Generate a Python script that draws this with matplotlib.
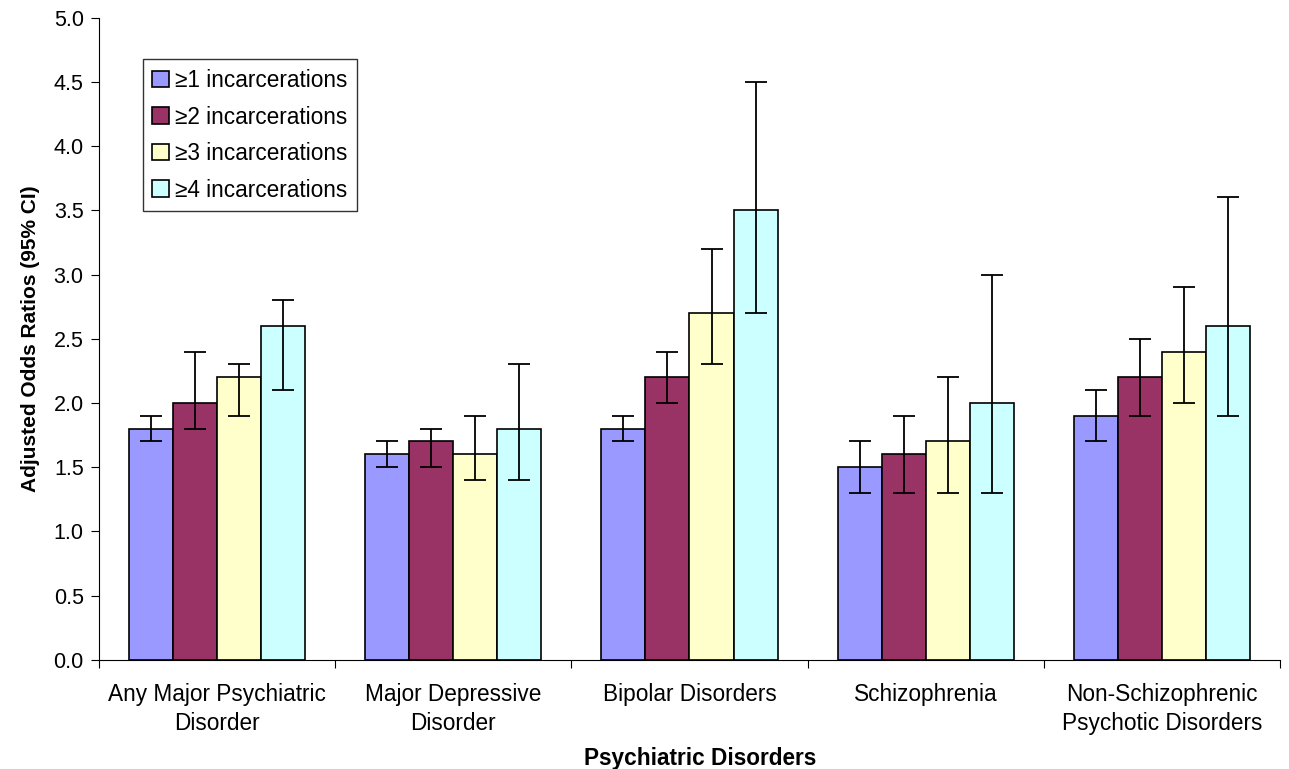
import numpy as np
import matplotlib
matplotlib.use("Agg")
import matplotlib.pyplot as plt

plt.rcParams['font.family'] = ['Liberation Sans', 'DejaVu Sans']

# categories and series
categories = ["Any Major Psychiatric\nDisorder", "Major Depressive\nDisorder",
              "Bipolar Disorders", "Schizophrenia",
              "Non-Schizophrenic\nPsychotic Disorders"]
series = ["\u22651 incarcerations", "\u22652 incarcerations",
          "\u22653 incarcerations", "\u22654 incarcerations"]

# odds ratios per series (one value per category)
or_1 = [1.8, 1.6, 1.8, 1.5, 1.9]
or_2 = [2.0, 1.7, 2.2, 1.6, 2.2]
or_3 = [2.2, 1.6, 2.7, 1.7, 2.4]
or_4 = [2.6, 1.8, 3.5, 2.0, 2.6]

# 95% CI bounds
lo_1 = [1.7, 1.5, 1.7, 1.3, 1.7]
hi_1 = [1.9, 1.7, 1.9, 1.7, 2.1]
lo_2 = [1.8, 1.5, 2.0, 1.3, 1.9]
hi_2 = [2.4, 1.8, 2.4, 1.9, 2.5]
lo_3 = [1.9, 1.4, 2.3, 1.3, 2.0]
hi_3 = [2.3, 1.9, 3.2, 2.2, 2.9]
lo_4 = [2.1, 1.4, 2.7, 1.3, 1.9]
hi_4 = [2.8, 2.3, 4.5, 3.0, 3.6]

colors = ["#9999FF", "#993366", "#FFFFCC", "#CCFFFF"]

values = [or_1, or_2, or_3, or_4]
lows = [lo_1, lo_2, lo_3, lo_4]
highs = [hi_1, hi_2, hi_3, hi_4]

fig = plt.figure(figsize=(12.89, 7.69), dpi=100)
ax = fig.add_axes([0.0768, 0.142, 0.9162, 0.835])

x = np.arange(len(categories))
w = 0.1865
for i in range(4):
    v = np.array(values[i])
    err = np.array([v - np.array(lows[i]), np.array(highs[i]) - v])
    ax.bar(x + (i - 1.5) * w, v, w, color=colors[i], edgecolor="black",
           linewidth=1.2, label=series[i], zorder=2)
    ax.errorbar(x + (i - 1.5) * w, v, yerr=err, fmt="none", ecolor="black",
                elinewidth=1.3, capsize=8, capthick=1.3, zorder=3)

ax.set_xlim(-0.5, 4.5)
ax.set_ylim(0, 5.0)
ax.set_yticks(np.arange(0, 5.01, 0.5))
ax.set_yticklabels([f"{t:.1f}" for t in np.arange(0, 5.01, 0.5)], fontsize=15.5)
ax.set_xticks(np.arange(-0.5, 4.51, 1.0))
ax.set_xticklabels([])
ax.set_xticks(x, minor=True)
ax.set_xticklabels(categories, minor=True, fontsize=16.3, linespacing=1.3)
ax.tick_params(axis="x", which="minor", length=0, pad=17)
ax.tick_params(axis="x", which="major", length=6, direction="out")
ax.tick_params(axis="y", length=6, direction="out", pad=5)
for s in ["top", "right"]:
    ax.spines[s].set_visible(False)

ax.set_ylabel("Adjusted Odds Ratios (95% CI)", fontsize=15, fontweight="bold", labelpad=10)
fig.text(700 / 1289, 1 - 758 / 769, "Psychiatric Disorders", fontsize=16.3,
         fontweight="bold", ha="center", va="center")

leg = ax.legend(loc="upper left", bbox_to_anchor=(0.037, 0.935), fontsize=16.3,
                frameon=True, fancybox=False, edgecolor="black", borderaxespad=0,
                handlelength=0.75, handleheight=0.75, handletextpad=0.25,
                labelspacing=0.6, borderpad=0.42)
leg.get_frame().set_linewidth(1.0)

fig.savefig("out.png", dpi=100)
